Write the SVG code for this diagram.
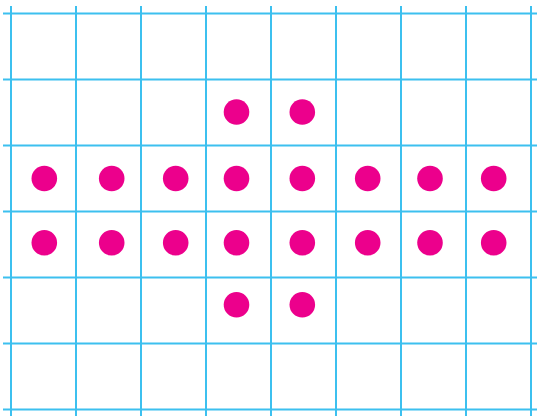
<svg xmlns="http://www.w3.org/2000/svg" width="537" height="416" viewBox="0 0 537 416">
<style>
.g{stroke:#3CC0EF;stroke-width:2;fill:none}
.d{fill:#EC008C}
</style>
<rect width="537" height="416" fill="#fff"/>
<g id="grid" class="g">
<path d="M11 6V416M76 6V416M141 6V416M206 6V416M271 6V416M336 6V416M401 6V416M466 6V416M531 6V416"/>
<path d="M3 13.5H537M3 79.5H537M3 145.5H537M3 211.5H537M3 277.5H537M3 343.5H537M3 409.5H537"/>
</g>
<g id="dots" class="d">
<circle cx="236.5" cy="112" r="12.8"/>
<circle cx="302.3" cy="112" r="12.8"/>
<circle cx="44.3" cy="178.5" r="12.8"/>
<circle cx="111.7" cy="178.5" r="12.8"/>
<circle cx="175.7" cy="178.5" r="12.8"/>
<circle cx="236.5" cy="178.5" r="12.8"/>
<circle cx="302.3" cy="178.5" r="12.8"/>
<circle cx="367.7" cy="178.5" r="12.8"/>
<circle cx="430" cy="178.5" r="12.8"/>
<circle cx="493.7" cy="178.5" r="12.8"/>
<circle cx="44.3" cy="242.8" r="12.8"/>
<circle cx="111.7" cy="242.8" r="12.8"/>
<circle cx="175.7" cy="242.8" r="12.8"/>
<circle cx="236.5" cy="242.8" r="12.8"/>
<circle cx="302.3" cy="242.8" r="12.8"/>
<circle cx="367.7" cy="242.8" r="12.8"/>
<circle cx="430" cy="242.8" r="12.8"/>
<circle cx="493.7" cy="242.8" r="12.8"/>
<circle cx="236.5" cy="304.7" r="12.8"/>
<circle cx="302.3" cy="304.7" r="12.8"/>
</g>
</svg>
